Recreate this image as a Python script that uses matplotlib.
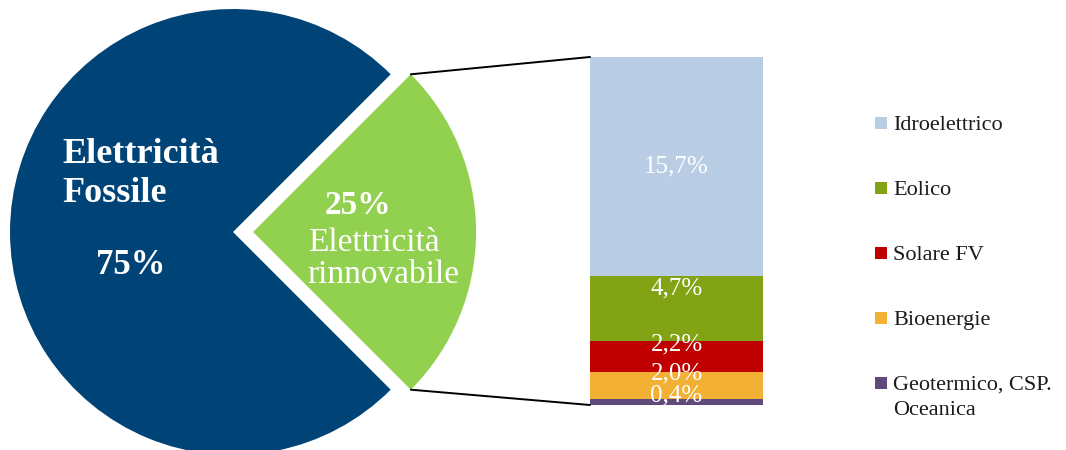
import matplotlib
matplotlib.use("Agg")
import matplotlib.pyplot as plt
import numpy as np
from matplotlib.patches import ConnectionPatch, Rectangle
from matplotlib.transforms import offset_copy

plt.rcParams['font.family'] = ['Liberation Serif', 'DejaVu Serif']

# dati
pie_labels = ['Elettricità rinnovabile', 'Elettricità Fossile']
pie_values = [25, 75]
pie_colors = ['#92d050', '#004376']

fonti = ['Idroelettrico', 'Eolico', 'Solare FV', 'Bioenergie', 'Geotermico, CSP.\nOceanica']
quote = [15.7, 4.7, 2.2, 2.0, 0.4]
quote_txt = ['15,7%', '4,7%', '2,2%', '2,0%', '0,4%']
colori = ['#b9cde5', '#82a314', '#c00000', '#f2b134', '#604a7b']

W, H = 1066, 450
fig = plt.figure(figsize=(W / 100, H / 100), dpi=100)

# torta
ax_pie = fig.add_axes([10 / W, -5 / H, 446 / W, 446 / H])
wedges, _ = ax_pie.pie(pie_values, colors=pie_colors, startangle=-45,
                       explode=[0.09, 0], counterclock=True,
                       wedgeprops=dict(linewidth=0))
ax_pie.set_xlim(-1, 1)
ax_pie.set_ylim(-1, 1)
ax_pie.set_aspect('equal')
ax_pie.axis('off')

ax_pie.text(-0.767, 0.26, 'Elettricità\nFossile', color='white', fontsize=26,
            fontweight='bold', ha='left', va='center', linespacing=1.25)
ax_pie.text(-0.46, -0.15, '75%', color='white', fontsize=25,
            fontweight='bold', ha='center', va='center')
ax_pie.text(0.56, 0.12, '25%', color='white', fontsize=24,
            fontweight='bold', ha='center', va='center')
ax_pie.text(0.335, -0.12, 'Elettricità\nrinnovabile', color='white', fontsize=24,
            ha='left', va='center', linespacing=1.08)

# barra impilata
ax_bar = fig.add_axes([590 / W, 45 / H, 173 / W, 348 / H])
tot = sum(quote)
bottom = 0
offs_px = [0, 20, 12, 12, 7]
for i in range(len(quote) - 1, -1, -1):
    ax_bar.bar(0, quote[i], bottom=bottom, width=1, color=colori[i], linewidth=0)
    tr = offset_copy(ax_bar.transData, fig=fig, x=0, y=offs_px[i], units='dots')
    ax_bar.text(0, bottom + quote[i] / 2, quote_txt[i], color='white', fontsize=18,
                ha='center', va='center', transform=tr)
    bottom += quote[i]
ax_bar.set_xlim(-0.5, 0.5)
ax_bar.set_ylim(0, tot)
ax_bar.axis('off')

# linee di collegamento
w = wedges[0]
cx, cy = w.center
for ang, yb in [(w.theta2, tot), (w.theta1, 0)]:
    xa = cx + w.r * np.cos(np.radians(ang))
    ya = cy + w.r * np.sin(np.radians(ang))
    con = ConnectionPatch(xyA=(xa, ya), coordsA=ax_pie.transData,
                          xyB=(-0.5, yb), coordsB=ax_bar.transData,
                          color='black', linewidth=1.4)
    fig.add_artist(con)

# legenda
for i, nome in enumerate(fonti):
    yc = 123 + 65 * i
    fig.add_artist(Rectangle((875 / W, 1 - (yc + 6) / H), 12 / W, 12 / H,
                             transform=fig.transFigure, color=colori[i], linewidth=0))
    fig.text(893 / W, 1 - (yc - 7) / H, nome, fontsize=16, color='#1a1a1a',
             ha='left', va='top', linespacing=1.45)

fig.savefig('out.png', dpi=100)
